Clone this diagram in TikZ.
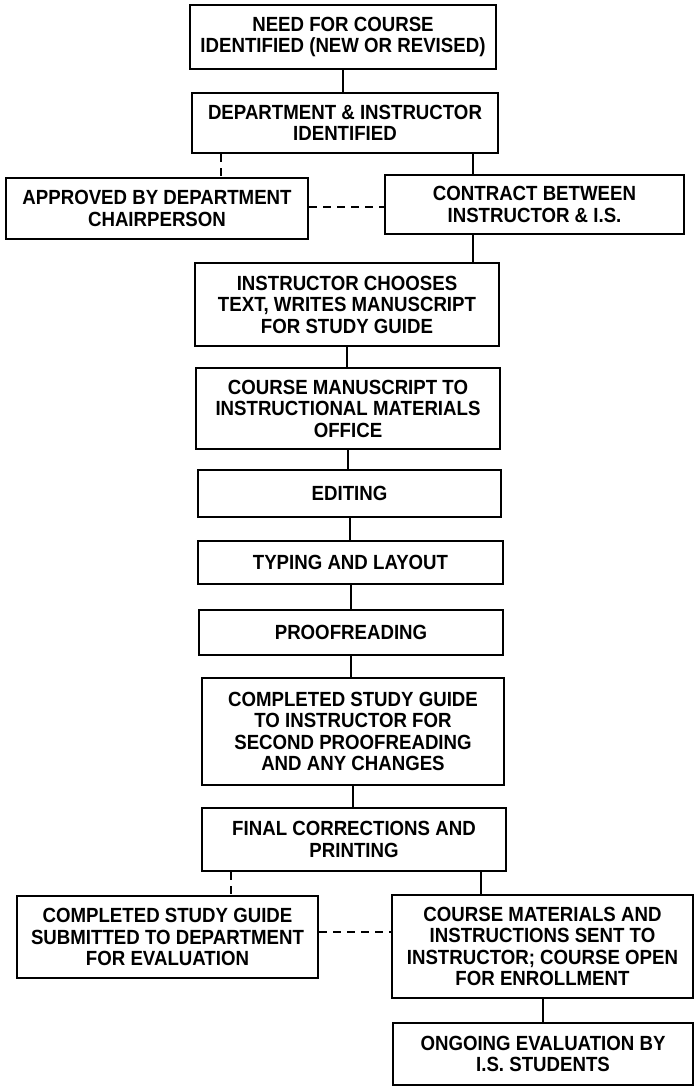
\documentclass[tikz,border=0pt]{standalone}
\usepackage{fontspec}
\setmainfont{Liberation Sans}[FakeStretch=0.91]
\begin{document}
\begin{tikzpicture}[x=1pt,y=-1pt,
  box/.style={draw, line width=2.6pt, align=center, inner sep=0pt,
    font=\fontsize{20.5}{21.5}\selectfont\bfseries},
  conn/.style={line width=2pt},
  dconn/.style={line width=2pt, dash pattern=on 8pt off 6pt}]
\useasboundingbox (0,0) rectangle (696,1088);
\node[box, minimum width=306, minimum height=64] (b1) at (343,37)
  {\fontsize{20.5}{26}\selectfont NEED FOR COURSE\\IDENTIFIED (NEW OR REVISED)};
\node[box, minimum width=306, minimum height=60] (b2) at (345,123)
  {DEPARTMENT \& INSTRUCTOR\\IDENTIFIED};
\node[box, minimum width=302, minimum height=61] (b3) at (157,208.5)
  {APPROVED BY DEPARTMENT\\CHAIRPERSON};
\node[box, minimum width=299, minimum height=59] (b4) at (534.5,204.5)
  {CONTRACT BETWEEN\\INSTRUCTOR \& I.S.};
\node[box, minimum width=304, minimum height=83] (b5) at (347,304.5)
  {INSTRUCTOR CHOOSES\\TEXT, WRITES MANUSCRIPT\\FOR STUDY GUIDE};
\node[box, minimum width=304, minimum height=81] (b6) at (348,408.5)
  {COURSE MANUSCRIPT TO\\INSTRUCTIONAL MATERIALS\\OFFICE};
\node[box, minimum width=303, minimum height=47] (b7) at (349.5,493.5)
  {EDITING};
\node[box, minimum width=305, minimum height=43] (b8) at (350.5,562.5)
  {TYPING AND LAYOUT};
\node[box, minimum width=304, minimum height=45] (b9) at (351,632.5)
  {PROOFREADING};
\node[box, minimum width=302, minimum height=107] (b10) at (353,731.5)
  {COMPLETED STUDY GUIDE\\TO INSTRUCTOR FOR\\SECOND PROOFREADING\\AND ANY CHANGES};
\node[box, minimum width=304, minimum height=63] (b11) at (354,839.5)
  {FINAL CORRECTIONS AND\\PRINTING};
\node[box, minimum width=301, minimum height=82] (b12) at (167.5,937)
  {COMPLETED STUDY GUIDE\\SUBMITTED TO DEPARTMENT\\FOR EVALUATION};
\node[box, minimum width=301, minimum height=103] (b13) at (542.5,946.5)
  {COURSE MATERIALS AND\\INSTRUCTIONS SENT TO\\INSTRUCTOR; COURSE OPEN\\FOR ENROLLMENT};
\node[box, minimum width=300, minimum height=62] (b14) at (543,1054)
  {ONGOING EVALUATION BY\\I.S. STUDENTS};
% x positions of connectors
\coordinate (xa) at (221,0);
\coordinate (xb) at (473,0);
\coordinate (xc) at (231,0);
\coordinate (xd) at (481,0);
\coordinate (xe) at (543,0);
\coordinate (ya) at (0,207);
\coordinate (yb) at (0,932);
\draw[conn] (b1.south) -- (b1.south |- b2.north);
\draw[dconn] (b2.south -| xa) -- (b3.north -| xa);
\draw[conn] (b2.south -| xb) -- (b4.north -| xb);
\draw[dconn] (b3.east |- ya) -- (b4.west |- ya);
\draw[conn] (b4.south -| xb) -- (b5.north -| xb);
\draw[conn] (b5.south) -- (b5.south |- b6.north);
\draw[conn] (b6.south) -- (b6.south |- b7.north);
\draw[conn] (b7.south) -- (b7.south |- b8.north);
\draw[conn] (b8.south) -- (b8.south |- b9.north);
\draw[conn] (b9.south) -- (b9.south |- b10.north);
\draw[conn] (b10.south) -- (b10.south |- b11.north);
\draw[dconn] (b11.south -| xc) -- (b12.north -| xc);
\draw[conn] (b11.south -| xd) -- (b13.north -| xd);
\draw[dconn] (b12.east |- yb) -- (b13.west |- yb);
\draw[conn] (b13.south -| xe) -- (b14.north -| xe);
\end{tikzpicture}
\end{document}
